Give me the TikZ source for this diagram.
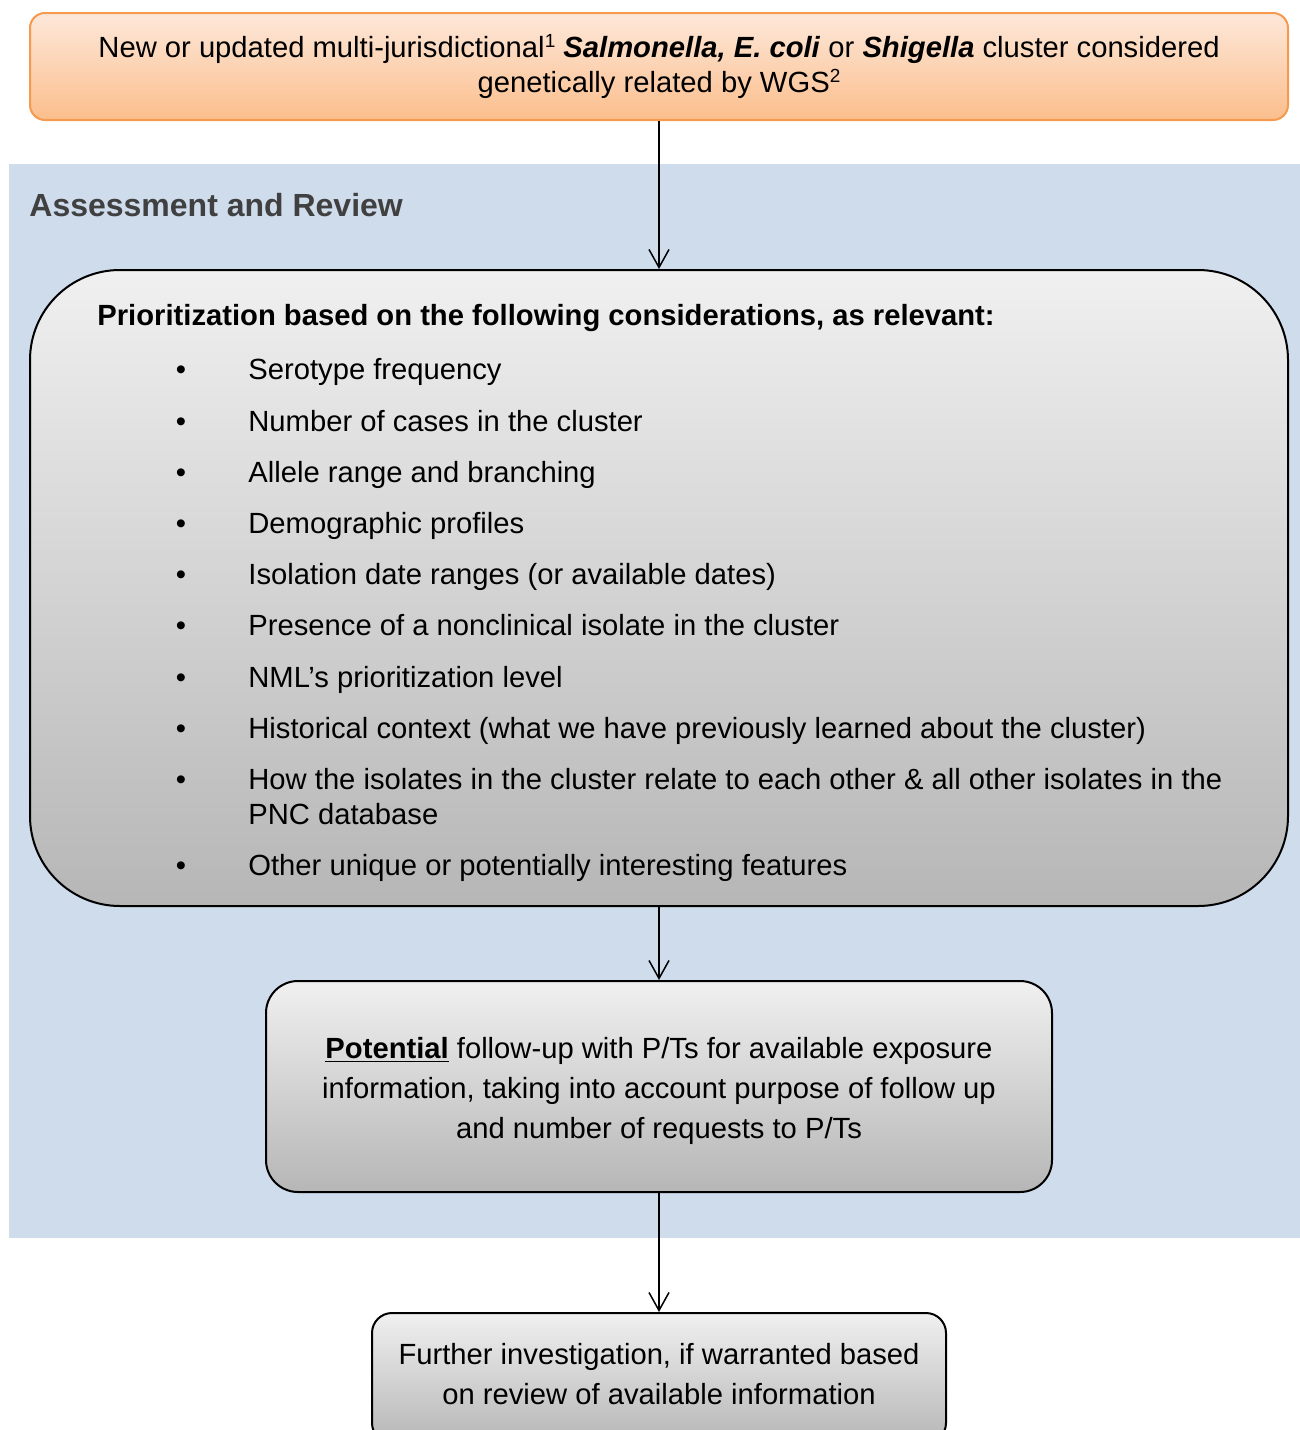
\documentclass[tikz,border=0pt]{standalone}
\usepackage{fontspec}
\setmainfont{Liberation Sans}
\usetikzlibrary{arrows.meta}
\definecolor{panelblue}{HTML}{CFDCEC}
\definecolor{orangeline}{HTML}{F59A4E}
\definecolor{orangetop}{HTML}{FDE8DA}
\definecolor{orangebot}{HTML}{FBBE8C}
\definecolor{greytop}{HTML}{F0F0F0}
\definecolor{greybot}{HTML}{B6B6B6}
\definecolor{headgrey}{HTML}{404040}
\newcommand{\mysup}[1]{\raisebox{0.6ex}{\fontsize{9.5}{10}\selectfont #1}}
\begin{document}
\begin{tikzpicture}[x=0.5pt,y=-0.5pt,
  box/.style={draw=black, line width=1pt, top color=greytop, bottom color=greybot, inner sep=0pt},
  topbox/.style={draw=orangeline, line width=1pt, top color=orangetop, bottom color=orangebot, rounded corners=7.5pt, inner sep=0pt, align=center, font=\fontsize{14.6}{17.5}\selectfont},
  flow/.style={line width=0.75pt, -{Straight Barb[length=9pt,width=10pt,line width=0.75pt]}},
  itemtxt/.style={anchor=base west, inner sep=0pt, font=\fontsize{14.6}{17.5}\selectfont},
  bullet/.style={anchor=base, inner sep=0pt, font=\fontsize{14.6}{17.5}\selectfont}
]
\useasboundingbox (0,0) rectangle (1300,1430);
\clip (0,0) rectangle (1300,1430);
\fill[white] (0,0) rectangle (1300,1430);
% panel
\fill[panelblue] (9,164) rectangle (1300,1238);
\node[anchor=west, inner sep=0pt, text=headgrey, font=\fontsize{16}{18}\selectfont\bfseries] (head) at (29,205) {Assessment and Review};

% top box
\node[topbox, minimum width=629pt, minimum height=53.5pt] (top) at (659,66.5)
  {New or updated multi-jurisdictional\mysup{1} \textbf{\textit{Salmonella, E. coli}} or \textbf{\textit{Shigella}} cluster considered\\genetically related by WGS\mysup{2}};

% big box
\node[box, rounded corners=45pt, minimum width=629pt, minimum height=318pt] (prio) at (659,588) {};
\node[itemtxt, font=\fontsize{14.6}{17.5}\selectfont\bfseries] (ph) at (97,325) {Prioritization based on the following considerations, as relevant:};
\foreach \yy/\txt [count=\i] in {
  379/{Serotype frequency},
  431/{Number of cases in the cluster},
  482/{Allele range and branching},
  533/{Demographic profiles},
  584/{Isolation date ranges (or available dates)},
  635/{Presence of a nonclinical isolate in the cluster},
  687/{NML’s prioritization level},
  738/{Historical context (what we have previously learned about the cluster)},
  789/{How the isolates in the cluster relate to each other \& all other isolates in the},
  875/{Other unique or potentially interesting features}} {
  \node[bullet] (b\i) at (181,\yy) {•};
  \node[itemtxt] (t\i) at (248,\yy) {\txt};
}
\node[itemtxt] (t9b) at (248,824) {PNC database};

% follow-up box
\node[box, rounded corners=16pt, minimum width=393pt, minimum height=105.5pt] (follow) at (659,1086.5) {};
\node[align=center, inner sep=0pt, font=\fontsize{14.6}{20}\selectfont] (followtxt) at (659,1091)
  {\underline{\textbf{Potential}} follow-up with P/Ts for available exposure\\information, taking into account purpose of follow up\\and number of requests to P/Ts};

% further box
\node[box, rounded corners=10pt, minimum width=287pt, minimum height=65pt] (further) at (659,1378) {};
\node[align=center, inner sep=0pt, font=\fontsize{14.6}{20}\selectfont] (furthertxt) at (659,1374)
  {Further investigation, if warranted based\\on review of available information};

% connectors
\draw[flow] (top.south) -- (prio.north);
\draw[flow] (prio.south) -- (follow.north);
\draw[flow] (follow.south) -- (further.north);
\end{tikzpicture}
\end{document}
